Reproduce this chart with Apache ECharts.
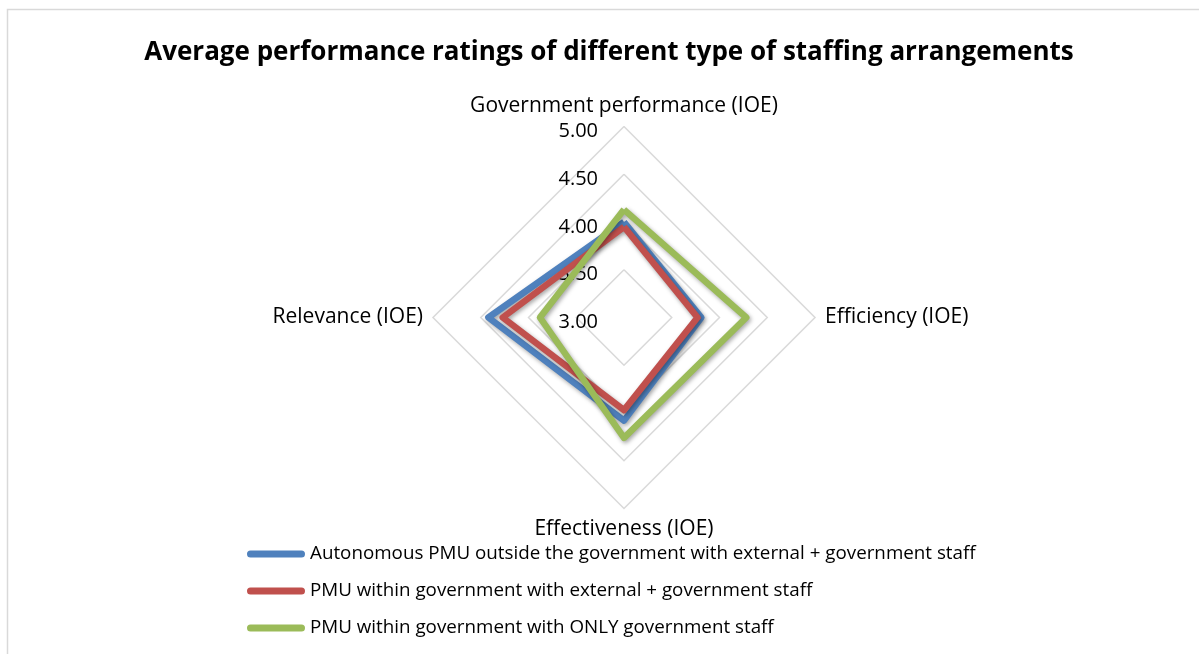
<!DOCTYPE html>
<html>
<head>
<meta charset="utf-8">
<title>Average performance ratings of different type of staffing arrangements</title>
<script src="https://cdn.jsdelivr.net/npm/echarts@6/dist/echarts.min.js"></script>
<style>
  html, body { margin: 0; padding: 0; background: #ffffff; }
  #chart { width: 1199px; height: 654px; }
</style>
</head>
<body>
<div id="chart"></div>
<script>
// Indicators in ECharts order (counter-clockwise from the top):
// top, left, bottom, right.
const indicatorNames = [
  'Government performance (IOE)',
  'Relevance (IOE)',
  'Effectiveness (IOE)',
  'Efficiency (IOE)'
];

const seriesNames = [
  'Autonomous PMU outside the government with external + government staff',
  'PMU within government with external + government staff',
  'PMU within government with ONLY government staff'
];

// Average ratings per indicator, same order as indicatorNames
const autonomousPMU = [4.00, 4.42, 4.08, 3.81];
const pmuExternalGov = [3.95, 4.27, 3.97, 3.77];
const pmuOnlyGov = [4.13, 3.88, 4.26, 4.28];

const seriesColors = ['#4F81BD', '#C0504D', '#9BBB59'];

const scaleMin = 3;
const scaleMax = 5;
const scaleSplits = 4;

const FONT = '"Open Sans", "Liberation Sans", sans-serif';

const chart = echarts.init(document.getElementById('chart'), null, { renderer: 'canvas' });

// Only the top axis carries the value labels
const indicators = indicatorNames.map((name, i) => {
  const ind = { name: name, min: scaleMin, max: scaleMax };
  if (i === 0) {
    ind.axisLabel = {
      show: true,
      color: '#000',
      fontFamily: FONT,
      fontSize: 20,
      margin: 26,
      verticalAlign: 'top',
      lineHeight: 10,
      formatter: v => v.toFixed(2)
    };
  }
  return ind;
});

const valueSets = [autonomousPMU, pmuExternalGov, pmuOnlyGov];

// Capsule-shaped legend marker
const capsule = 'path://M3.5,0 L54.5,0 A3.5,3.5 0 0 1 54.5,7 L3.5,7 A3.5,3.5 0 0 1 3.5,0 Z';

chart.setOption({
  backgroundColor: '#ffffff',
  animation: false,
  title: {
    text: 'Average performance ratings of different type of staffing arrangements',
    left: 609,
    top: 40,
    padding: 0,
    textAlign: 'center',
    textStyle: {
      fontFamily: FONT,
      fontWeight: 'bold',
      fontSize: 26,
      color: '#000'
    }
  },
  graphic: [{
    type: 'rect',
    shape: { x: 7.5, y: 9.5, width: 1300, height: 800 },
    style: { fill: 'none', stroke: '#d9d9d9', lineWidth: 1.5 },
    silent: true,
    z: -1
  }],
  legend: {
    orient: 'vertical',
    left: 247,
    top: 544,
    padding: 0,
    itemWidth: 58,
    itemHeight: 7,
    itemGap: 17,
    icon: capsule,
    data: seriesNames.map((n, i) => ({ name: n, itemStyle: { color: seriesColors[i] } })),
    textStyle: {
      fontFamily: FONT,
      fontSize: 18.8,
      color: '#000',
      lineHeight: 20
    }
  },
  radar: {
    center: [624, 317.5],
    radius: 191,
    startAngle: 90,
    shape: 'polygon',
    splitNumber: scaleSplits,
    nameGap: 10,
    axisName: {
      color: '#000',
      fontFamily: FONT,
      fontSize: 21
    },
    axisLine: { show: false },
    axisTick: { show: false },
    axisLabel: { show: false },
    splitArea: { show: false },
    splitLine: { lineStyle: { color: '#d9d9d9', width: 1.5 } },
    indicator: indicators
  },
  series: [{
    type: 'radar',
    symbol: 'none',
    data: valueSets.map((vals, i) => ({
      name: seriesNames[i],
      value: vals,
      lineStyle: {
        color: seriesColors[i],
        width: 6.5,
        join: 'round',
        shadowColor: 'rgba(0,0,0,0.35)',
        shadowBlur: 4,
        shadowOffsetX: 1.5,
        shadowOffsetY: 2
      },
      itemStyle: { color: seriesColors[i] }
    }))
  }]
});
</script>
</body>
</html>
